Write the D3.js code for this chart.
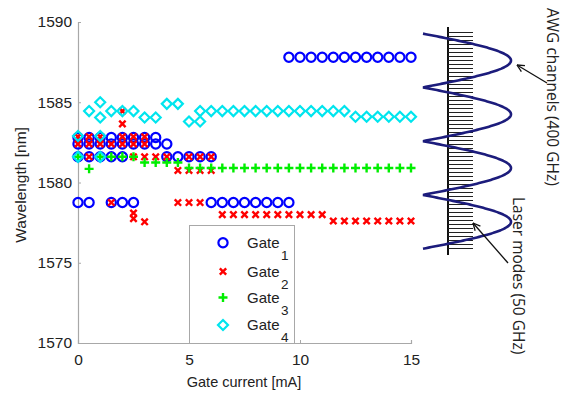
<!DOCTYPE html>
<html><head><meta charset="utf-8">
<script src="https://cdn.jsdelivr.net/npm/d3@7"></script>
<style>body{margin:0;background:#fff}svg{display:block}text{font-family:Arial,"Liberation Sans",sans-serif;fill:#222}</style>
</head><body><svg id="c" width="572" height="396"></svg>
<script>
const xTicks=[0,5,10,15];
const yTicks=[1570,1575,1580,1585,1590];
const gate1=[[9.5,1587.8],[10,1587.8],[10.5,1587.8],[11,1587.8],[11.5,1587.8],[12,1587.8],[12.5,1587.8],[13,1587.8],[13.5,1587.8],[14,1587.8],[14.5,1587.8],[15,1587.8],
[0,1582.8],[0.5,1582.8],[1,1582.8],[1.5,1582.8],[2,1582.8],[2.5,1582.8],[3,1582.8],[3.5,1582.8],
[0,1582.4],[0.5,1582.4],[1,1582.4],[1.5,1582.4],[2,1582.4],[2.5,1582.4],[3,1582.4],[3.5,1582.4],[4,1582.4],
[0,1581.6],[0.5,1581.6],[1,1581.6],[1.5,1581.6],[2,1581.6],[4,1581.6],[4.5,1581.6],[5,1581.6],[5.5,1581.6],[6,1581.6],
[0,1578.75],[0.5,1578.75],[1.5,1578.75],[2,1578.75],[2.5,1578.75],[6,1578.75],[6.5,1578.75],[7,1578.75],[7.5,1578.75],[8,1578.75],[8.5,1578.75],[9,1578.75],[9.5,1578.75]];
const gate2=[[0,1582.85],[0.5,1582.85],[1,1582.85],[2,1582.85],[2.5,1582.85],[3,1582.85],
[0,1582.4],[0.5,1582.4],[1,1582.4],[1.5,1582.4],[2,1582.4],[2.5,1582.4],[3,1582.4],
[2,1584.45],[2,1583.65],
[0.5,1581.6],[2.5,1581.6],[3,1581.6],[3.5,1581.6],[4,1581.6],[5,1581.6],[5.5,1581.6],[6,1581.6],
[4.5,1580.75],[5,1580.75],[5.5,1580.75],[6,1580.75],
[1.5,1578.75],[2.5,1578.1],[2.5,1577.75],[3,1577.55],
[4.5,1578.75],[5,1578.75],[5.5,1578.75],
[6.5,1578.0],[7,1578.0],[7.5,1578.0],[8,1578.0],[8.5,1578.0],[9,1578.0],[9.5,1578.0],[10,1578.0],[10.5,1578.0],[11,1578.0],
[11.5,1577.6],[12,1577.6],[12.5,1577.6],[13,1577.6],[13.5,1577.6],[14,1577.6],[14.5,1577.6],[15,1577.6]];
const gate3=[[0,1581.6],[0.5,1580.85],[1,1581.6],[1.5,1581.6],[2,1581.6],[2.5,1581.6],
[3,1581.25],[3.5,1581.25],[4,1581.25],[4.5,1581.25],
[5,1580.9],[5.5,1580.9],[6,1580.9],[6.5,1580.9],[7,1580.9],[7.5,1580.9],[8,1580.9],[8.5,1580.9],[9,1580.9],[9.5,1580.9],[10,1580.9],[10.5,1580.9],[11,1580.9],[11.5,1580.9],[12,1580.9],[12.5,1580.9],[13,1580.9],[13.5,1580.9],[14,1580.9],[14.5,1580.9],[15,1580.9]];
const gate4=[[0,1582.9],[1,1582.9],[0,1581.6],[1,1581.6],
[0.5,1584.45],[1,1585.0],[1,1584.05],[1.5,1584.45],[2,1584.45],[2.5,1584.45],[3,1584.05],[3.5,1584.05],[4,1584.9],[4.5,1584.9],[5,1583.8],[5.5,1583.8],
[5.5,1584.45],[6,1584.45],[6.5,1584.45],[7,1584.45],[7.5,1584.45],[8,1584.45],[8.5,1584.45],[9,1584.45],[9.5,1584.45],[10,1584.45],[10.5,1584.45],[11,1584.45],[11.5,1584.45],[12,1584.45],
[12.5,1584.1],[13,1584.1],[13.5,1584.1],[14,1584.1],[14.5,1584.1],[15,1584.1]];
const legendLabels=["1","2","3","4"];
// schematic on the right (wavelength positions)
const awgPeaks=[1587.6,1584.25,1580.9,1577.55];
const laserModes=[1589.4,1589.15,1588.9,1588.65,1588.4,1588.15,1587.9,1587.65,1587.4,1587.15,1586.9,1586.65,1586.4,1586.15,1585.9,1585.65,1585.4,1585.15,1584.9,1584.65,1584.4,1584.15,1583.9,1583.65,1583.4,1583.15,1582.9,1582.65,1582.4,1582.15,1581.9,1581.65,1581.4,1581.15,1580.9,1580.65,1580.4,1580.15,1579.9,1579.65,1579.4,1579.15,1578.9,1578.65,1578.4,1578.15,1577.9,1577.65,1577.4,1577.15,1576.9,1576.65,1576.4,1576.15,1575.9];

const svg=d3.select("#c");
const x=d3.scaleLinear().domain([0,15]).range([78,411]);
const y=d3.scaleLinear().domain([1570,1590]).range([343,22]);
const axisCol="#a8a8a8";

const gx=svg.append("g").attr("transform","translate(0,343)").call(d3.axisBottom(x).tickValues(xTicks).tickFormat(d3.format("d")).tickSize(-3).tickPadding(8));
const gy=svg.append("g").attr("transform","translate(78,0)").call(d3.axisLeft(y).tickValues(yTicks).tickFormat(d3.format("d")).tickSize(-3).tickPadding(8));
[gx,gy].forEach(g=>{g.select(".domain").attr("stroke",axisCol).attr("stroke-width",1.2);
 g.selectAll(".tick line").attr("stroke",axisCol);
 g.selectAll(".tick text").attr("font-size",15.5).attr("fill","#222").style("font-family","Arial, 'Liberation Sans', sans-serif");});
gy.selectAll(".tick text").attr("x",-6);
gx.selectAll(".tick text").attr("dy","0.9em");

svg.append("text").attr("x",244).attr("y",387).attr("text-anchor","middle").attr("font-size",14.5).text("Gate current [mA]");
svg.append("text").attr("transform","translate(26,185) rotate(-90)").attr("text-anchor","middle").attr("font-size",15.5).text("Wavelength [nm]");

const mk={
 circle:(g)=>g.append("circle").attr("r",4.6).attr("fill","none").attr("stroke","#0000ff").attr("stroke-width",2.2),
 x:(g)=>g.append("path").attr("d","M-3.2,-3.2L3.2,3.2M-3.2,3.2L3.2,-3.2").attr("stroke","#ff0000").attr("stroke-width",2.4).attr("fill","none"),
 plus:(g)=>g.append("path").attr("d","M-4.5,0H4.5M0,-4.5V4.5").attr("stroke","#00ee00").attr("stroke-width",2.4).attr("fill","none"),
 diamond:(g)=>g.append("path").attr("d","M0,-5L5,0L0,5L-5,0Z").attr("stroke","#00e5ee").attr("stroke-width",2.2).attr("fill","none")
};
function drawSeries(data,type){
 const g=svg.append("g");
 data.forEach(d=>{const t=g.append("g").attr("transform",`translate(${x(d[0])},${y(d[1])})`);mk[type](t);});
}
drawSeries(gate1,"circle");drawSeries(gate2,"x");drawSeries(gate3,"plus");drawSeries(gate4,"diamond");

// legend
const lg=svg.append("g");
lg.append("rect").attr("x",189.5).attr("y",225.5).attr("width",105).attr("height",118).attr("fill","#fff").attr("stroke","#a8a8a8");
const types=["circle","x","plus","diamond"];
const ly=[242.7,271.5,297.5,325];
types.forEach((t,i)=>{
 const e=lg.append("g").attr("transform",`translate(223,${ly[i]})`);mk[t](e);
 lg.append("text").attr("x",247).attr("y",ly[i]+5).attr("font-size",15).text("Gate");
 lg.append("text").attr("x",281).attr("y",ly[i]+17).attr("font-size",13.5).text(legendLabels[i]);
});

// schematic
const comb=svg.append("g");
comb.append("line").attr("x1",448).attr("x2",448).attr("y1",27).attr("y2",255).attr("stroke","#111").attr("stroke-width",2);
laserModes.forEach(w=>{const yy=Math.round(y(w))+0.5;comb.append("line").attr("x1",448).attr("x2",473).attr("y1",yy).attr("y2",yy).attr("stroke","#222").attr("stroke-width",1);});
const P=awgPeaks[0]-awgPeaks[1];
const lamTop=awgPeaks[0]+P/2, lamBot=awgPeaks[awgPeaks.length-1]-P/2;
const samples=d3.range(0,401).map(i=>lamTop-(lamTop-lamBot)*i/400);
const curveX=l=>{let best=1e9;awgPeaks.forEach(p=>{if(Math.abs(l-p)<Math.abs(best))best=l-p;});return 423+88*Math.abs(Math.cos(Math.PI*best/P));};
svg.append("path").attr("d",d3.line().x(l=>curveX(l)).y(l=>y(l))(samples)).attr("fill","none").attr("stroke","#1c1c7c").attr("stroke-width",2.6);

function arrow(x1,y1,x2,y2){
 const g=svg.append("g").attr("stroke","#111").attr("stroke-width",1.3).attr("fill","none");
 g.append("line").attr("x1",x1).attr("y1",y1).attr("x2",x2).attr("y2",y2);
 const a=Math.atan2(y2-y1,x2-x1),L=8;
 [0.45,-0.45].forEach(s=>g.append("line").attr("x1",x2).attr("y1",y2).attr("x2",x2-L*Math.cos(a+s)).attr("y2",y2-L*Math.sin(a+s)));
}
arrow(547,83,517,65);
arrow(508,263,473,223);
svg.append("text").attr("transform","translate(553,8) rotate(90)").attr("dominant-baseline","central").attr("font-size",15.5).style("font-family","'Open Sans',sans-serif").text("AWG channels (400 GHz)");
svg.append("text").attr("transform","translate(519,197) rotate(90)").attr("dominant-baseline","central").attr("font-size",15.5).style("font-family","'Open Sans',sans-serif").text("Laser modes (50 GHz)");
</script></body></html>
